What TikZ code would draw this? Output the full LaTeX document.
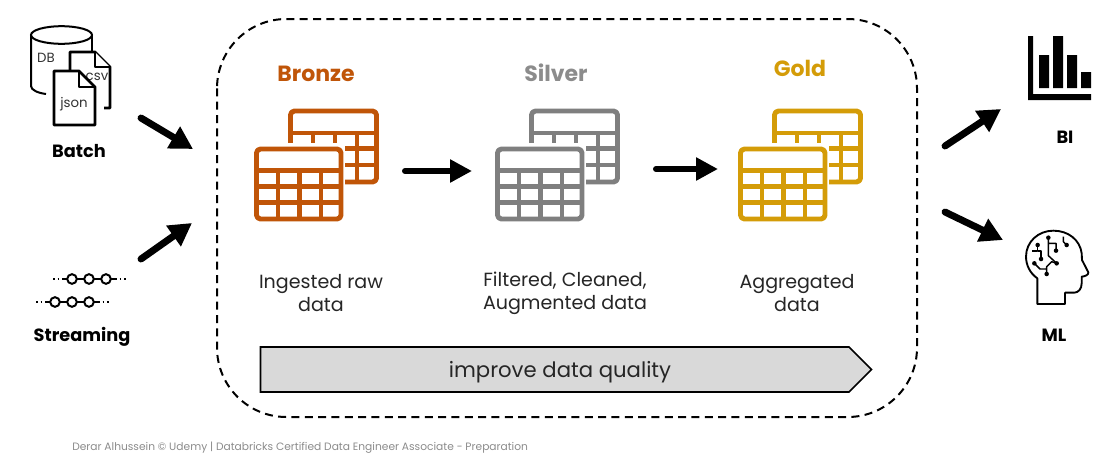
\documentclass[tikz,border=0pt]{standalone}
\usepackage{fontspec}
\setmainfont{Poppins}
\usetikzlibrary{arrows.meta}
\definecolor{bronzec}{HTML}{C05508}
\definecolor{silverc}{HTML}{7F7F7F}
\definecolor{goldc}{HTML}{D49C08}
\definecolor{footc}{HTML}{8C8C8C}
\definecolor{bandc}{HTML}{D9D9D9}
\tikzset{
  flow/.style={line width=4.5pt,line cap=round,draw=black,-{Triangle[length=16.5pt,width=16.5pt]}},
  diagflow/.style={flow,line width=5.2pt,-{Triangle[length=17pt,width=18pt]}},
  titlelab/.style={font=\fontsize{16.5}{20}\selectfont\bfseries,inner sep=0pt,anchor=center},
  captext/.style={font=\fontsize{14.3}{17.3}\selectfont,align=center,inner sep=0pt,anchor=center,text=black!85},
  lab/.style={font=\fontsize{13.3}{15}\selectfont\bfseries,inner sep=0pt,anchor=center},
  icontext/.style={font=\fontsize{10}{12}\selectfont,inner sep=0pt,anchor=center,text=black!80},
  docshape/.style={draw=black,line width=2.1pt,line join=round,fill=white},
  bead/.style={circle,draw=black,line width=1.5pt,fill=white,minimum size=7.2pt,inner sep=0pt},
  junction/.style={circle,fill=black,minimum size=3.4pt,inner sep=0pt},
  tline/.style={line width=3.7pt,line join=round},
}
% #1 x shift, #2 colour
\newcommand{\tablepair}[2]{%
  \begin{scope}[shift={(#1,0)},draw=#2]
    \draw[tline] (290.5,111) [rounded corners=3pt] -- (376.5,111) -- (376.5,182) -- (290.5,182) -- cycle;
    \draw[tline] (290.5,133)--(376.5,133) (290.5,148.5)--(376.5,148.5) (290.5,165)--(376.5,165)
      (313,133)--(313,182) (335,133)--(335,182) (357,133)--(357,182);
    \fill[white] (280,143) rectangle (345,195);
    \draw[tline,fill=white] (256.5,149) [rounded corners=3pt] -- (341,149) -- (341,219) -- (256.5,219) -- cycle;
    \draw[tline] (256.5,170.5)--(341,170.5) (256.5,186.5)--(341,186.5) (256.5,202.5)--(341,202.5)
      (278,170.5)--(278,219) (299.5,170.5)--(299.5,219) (321,170.5)--(321,219);
  \end{scope}}
\begin{document}
\begin{tikzpicture}[x=0.75pt,y=-0.75pt]
\useasboundingbox (0,0) rectangle (1119,457);
\fill[white] (0,0) rectangle (1119,457);

% container
\draw[black,line width=1.5pt,dash pattern=on 6pt off 4pt,rounded corners=52pt] (217,19) rectangle (917,417);

% batch icons
\draw[black,line width=1.5pt] (31,35) -- (31,86) .. controls (31,90) and (38,93) .. (46,94);
\draw[black,line width=1.5pt] (92,35) -- (92,52);
\draw[black,line width=1.5pt] (61.5,35) ellipse [x radius=30.5,y radius=8.8];
\node[icontext] (db) at (46,58) {DB};
\draw[docshape] (104,108) -- (110,108) -- (110,67) -- (95,52) -- (70,52) -- (70,72);
\draw[docshape] (95,52) -- (95,67) -- (110,67);
\node[icontext] (csv) at (97,77) {csv};
\draw[docshape] (54,71) -- (79,71) -- (95,87) -- (95,125) -- (54,125) -- cycle;
\draw[docshape,fill=none] (79,71) -- (79,87) -- (95,87);
\node[icontext] (json) at (74,104) {json};
\node[lab] (batch) at (79,151) {Batch};

% streaming icon
\draw[black,line width=1.3pt,dash pattern=on 1.3pt off 2.2pt] (53,279) -- (64,279) (115,279) -- (127,279);
\draw[black,line width=1.3pt,dash pattern=on 1.3pt off 2.2pt] (36,302) -- (47,302) (98,302) -- (109,302);
\draw[black,line width=1.3pt] (64,279) -- (115,279) (47,302) -- (98,302);
\node[bead] (s1) at (72,279) {};
\node[bead] (s2) at (89,279) {};
\node[bead] (s3) at (106,279) {};
\node[bead] (s4) at (55,302) {};
\node[bead] (s5) at (72,302) {};
\node[bead] (s6) at (89,302) {};
\node[lab] (streaming) at (82,337) {Streaming};

% input arrows
\coordinate (batchout) at (141,118);
\coordinate (batchin) at (193,149);
\coordinate (streamout) at (141,259);
\coordinate (streamin) at (192,223);
\draw[diagflow] (batchout) -- (batchin);
\draw[diagflow] (streamout) -- (streamin);

% tables
\tablepair{0}{bronzec}
\tablepair{241}{silverc}
\tablepair{484}{goldc}

\node[titlelab,text=bronzec] (bronze) at (316,74) {Bronze};
\node[titlelab,text=silverc!90] (silver) at (556,73) {Silver};
\node[titlelab,text=goldc] (gold) at (800,68) {Gold};

\coordinate (ba) at (405,171);
\coordinate (bb) at (472,171);
\coordinate (sa) at (656,169);
\coordinate (sb) at (718,169);
\draw[flow] (ba) -- (bb);
\draw[flow] (sa) -- (sb);

\node[captext] (c1) at (321,293) {Ingested raw\\data};
\node[captext] (c2) at (565,293) {Filtered, Cleaned,\\Augmented data};
\node[captext] (c3) at (797,293) {Aggregated\\data};

% band
\draw[black,line width=1.3pt,fill=bandc,line join=miter] (260.5,347) -- (849,347) -- (871.5,369.5) -- (849,392) -- (260.5,392) -- cycle;
\node[font=\fontsize{15.9}{20}\selectfont,inner sep=0pt,text=black!85] (band) at (560,372) {improve data quality};

% output arrows
\coordinate (biout) at (945,146);
\coordinate (biin) at (1001,109);
\coordinate (mlout) at (945,212);
\coordinate (mlin) at (1003,240);
\draw[diagflow] (biout) -- (biin);
\draw[diagflow] (mlout) -- (mlin);

% BI icon
\fill[black] (1028,36) rectangle (1033,100) (1028,94) rectangle (1091,100)
  (1039,55) rectangle (1049,88) (1053,36) rectangle (1063,88)
  (1067,55) rectangle (1077,88) (1081,72) rectangle (1091,88);
\node[lab] (bi) at (1065,137) {BI};

% ML icon
\begin{scope}[shift={(1000,215)},x=0.25pt,y=-0.25pt,black,line width=1.1pt,line join=round]
  \draw[line width=1.4pt] (112,190) .. controls (90,175) and (78,150) .. (78,125)
    .. controls (78,80) and (115,47) .. (160,47)
    .. controls (205,47) and (240,75) .. (245,115)
    -- (246,135) -- (265,172) .. controls (266,180) and (255,184) .. (245,185)
    -- (245,205) .. controls (245,222) and (235,233) .. (222,233) -- (195,233) -- (195,267) -- (112,267) -- cycle;
  \draw (113,90) -- (113,108) -- (95,108) (113,108) -- (123,108) -- (123,132);
  \draw (145,68) -- (145,122) -- (170,145) (145,85) -- (168,85) -- (168,107);
  \draw (103,145) -- (120,162) -- (140,162) -- (140,177) (140,162) -- (140,155) -- (155,140) -- (170,145);
  \draw (190,65) -- (190,80) -- (200,90);
  \foreach \nm/\px/\py in {j1/113/90,j2/123/132,j3/103/145,j4/140/177,j5/145/68,j6/168/107,j7/170/145,j8/200/90}
    \node[junction] (\nm) at (\px,\py) {};
\end{scope}
\node[lab] (ml) at (1054,335) {ML};

\node[font=\fontsize{8}{10}\selectfont,inner sep=0pt,anchor=west,text=footc] (foot) at (72,448) {Derar Alhussein © Udemy | Databricks Certified Data Engineer Associate - Preparation};
\end{tikzpicture}
\end{document}
